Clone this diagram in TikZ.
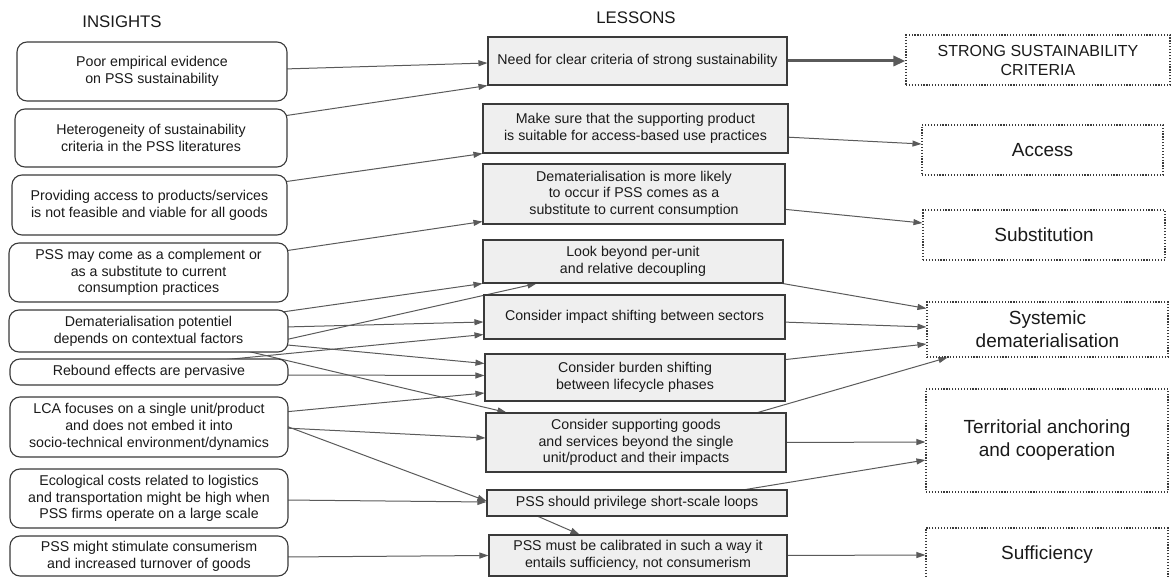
\documentclass[tikz,border=0pt]{standalone}
\usepackage{fontspec}
\setmainfont{Liberation Sans}
\usetikzlibrary{arrows.meta,calc}
\pgfdeclarelayer{bg}
\pgfsetlayers{bg,main}
\definecolor{linec}{HTML}{5A5A5A}
\definecolor{boxc}{HTML}{3A3A3A}
\definecolor{lesfill}{HTML}{EFEFEF}
\definecolor{txt}{HTML}{1A1A1A}
\tikzset{
  ins/.style={draw=boxc, line width=1.1pt, rounded corners=10pt, fill=white, align=center,
    inner sep=0pt, font=\fontsize{14.2}{16.7}\selectfont, text=txt},
  les/.style={draw=boxc, line width=1.1pt, fill=lesfill, align=center,
    inner sep=0pt, font=\fontsize{14.2}{16.5}\selectfont, text=txt},
  res/.style={draw=boxc, line width=1.1pt, dash pattern=on 1.2pt off 1.7pt, fill=white, align=center,
    inner sep=0pt, font=\fontsize{19}{23}\selectfont, text=txt},
  title/.style={font=\fontsize{16.8}{19}\selectfont, text=txt, inner sep=0pt},
  conn/.style={draw=linec, line width=1pt, -{Triangle[length=9pt,width=6pt]}},
  bigconn/.style={draw=linec, line width=3pt, -{Triangle[length=12pt,width=10pt]}}
}
\begin{document}
\begin{tikzpicture}[x=1pt,y=-1pt]
\useasboundingbox (0,0) rectangle (1171,577);

% titles
\node[title] (tI) at (122,22) {INSIGHTS};
\node[title] (tL) at (636,17.5) {LESSONS};

% insights
\node[ins, minimum width=270pt, minimum height=59pt] (L1) at (152,71.5) {Poor empirical evidence\\on PSS sustainability};
\node[ins, minimum width=272pt, minimum height=58pt] (L2) at (151,138) {Heterogeneity of sustainability\\criteria in the PSS literatures};
\node[ins, minimum width=275pt, minimum height=60pt] (L3) at (149.5,205) {Providing access to products/services\\is not feasible and viable for all goods};
\node[ins, minimum width=279pt, minimum height=59pt] (L4) at (148.5,272.5) {PSS may come as a complement or\\as a substitute to current\\consumption practices};
\node[ins, minimum width=279pt, minimum height=42pt] (L5) at (148.5,331) {Dematerialisation potentiel\\depends on contextual factors};
\node[ins, minimum width=278pt, minimum height=26pt] (L6) at (149,372) {Rebound effects are pervasive};
\node[ins, minimum width=278pt, minimum height=60pt] (L7) at (149,427) {LCA focuses on a single unit/product\\and does not embed it into\\socio-technical environment/dynamics};
\node[ins, minimum width=278pt, minimum height=59pt] (L8) at (149,498.5) {Ecological costs related to logistics\\and transportation might be high when\\PSS firms operate on a large scale};
\node[ins, minimum width=278pt, minimum height=40pt] (L9) at (149,556) {PSS might stimulate consumerism\\and increased turnover of goods};

% lessons
\node[les, minimum width=299pt, minimum height=48pt] (M1) at (637.5,61) {Need for clear criteria of strong sustainability};
\node[les, minimum width=305pt, minimum height=49pt] (M2) at (635.5,128.5) {Make sure that the supporting product\\is suitable for access-based use practices};
\node[les, minimum width=302pt, minimum height=60pt] (M3) at (634,194) {Dematerialisation is more likely\\to occur if PSS comes as a\\substitute to current consumption};
\node[les, minimum width=300pt, minimum height=43pt] (M4) at (633,261.5) {Look beyond per-unit\\and relative decoupling};
\node[les, minimum width=301pt, minimum height=44pt] (M5) at (634.5,317) {Consider impact shifting between sectors};
\node[les, minimum width=300pt, minimum height=47pt] (M6) at (635,377.5) {Consider burden shifting\\between lifecycle phases};
\node[les, minimum width=300pt, minimum height=59pt] (M7) at (636,442.5) {Consider supporting goods\\and services beyond the single\\unit/product and their impacts};
\node[les, minimum width=300pt, minimum height=26pt] (M8) at (637,503) {PSS should privilege short-scale loops};
\node[les, minimum width=298pt, minimum height=41pt] (M9) at (638,555.5) {PSS must be calibrated in such a way it\\entails sufficiency, not consumerism};

% results
\node[res, minimum width=264pt, minimum height=50pt, font=\fontsize{16}{19}\selectfont] (R1) at (1038,60) {STRONG SUSTAINABILITY\\CRITERIA};
\node[res, minimum width=241pt, minimum height=50pt] (R2) at (1042.5,150) {Access};
\node[res, minimum width=242pt, minimum height=50pt] (R3) at (1044,235) {Substitution};
\node[res, minimum width=241pt, minimum height=55pt] (R4) at (1047.5,329.5) {Systemic\\dematerialisation};
\node[res, minimum width=242pt, minimum height=103pt] (R5) at (1047,440.5) {Territorial anchoring\\and cooperation};
\node[res, minimum width=242pt, minimum height=54pt] (R6) at (1047,555) {Sufficiency};

\begin{pgfonlayer}{bg}
% insights -> lessons
\draw[conn] ($(L1.east)+(-4,-2.5)$) -- ($(M1.west)+(0,2)$);
\draw[conn] ($(L2.north east)+(-4,7.5)$) -- (M1.south west);
\draw[conn] ($(L3.north east)+(-4,7.5)$) -- (M2.south west);
\draw[conn] ($(L4.north east)+(-4,8.5)$) -- ($(M3.south west)+(0,-3)$);
\draw[conn] ($(L5.north east)+(-6,2.5)$) -- (M4.south west);
\draw[conn] ($(L5.east)+(-4,-4)$) -- ($(M5.west)+(0,5)$);
\draw[conn] ($(L5.east)+(-4,9)$) -- ($(M4.south west)+(54,0)$);
\draw[conn] ($(L5.south east)+(-6,-8)$) -- ($(M6.west)+(0,-14)$);
\draw[conn] ($(L5.south east)+(-48,-3)$) -- ($(M7.north west)+(21,0)$);
\draw[conn] ($(L6.north)+(58,3)$) -- ($(M5.south west)+(0,-5)$);
\draw[conn] ($(L6.east)+(-4,3)$) -- ($(M6.west)+(0,-2)$);
\draw[conn] ($(L7.north east)+(-4,15.5)$) -- ($(M6.west)+(0,15.5)$);
\draw[conn] ($(L7.east)+(-4,1)$) -- ($(M7.west)+(0,-4.5)$);
\draw[conn] ($(L7.east)+(-4,-1.5)$) -- ($(M8.west)+(0,-2)$);
\draw[conn] ($(L8.east)+(-4,1.5)$) -- ($(M8.west)+(0,-1)$);
\draw[conn] ($(L9.east)+(-4,1)$) -- (M9.west);
\draw[conn] ($(M8.south west)+(45,-3)$) -- ($(M9.north west)+(91,0)$);
% lessons -> results
\draw[bigconn] ($(M1.east)+(-4,0)$) -- ($(R1.west)+(0,1)$);
\draw[conn] ($(M2.east)+(-4,8.5)$) -- ($(R2.west)+(0,-6)$);
\draw[conn] ($(M3.east)+(-4,15)$) -- ($(R3.west)+(0,-12)$);
\draw[conn] ($(M4.south east)+(-18,-3)$) -- ($(R4.north west)+(0,7)$);
\draw[conn] ($(M5.east)+(-4,5)$) -- ($(R4.west)+(0,-2.5)$);
\draw[conn] ($(M6.east)+(-4,-17.5)$) -- ($(R4.west)+(0,14.5)$);
\draw[conn] ($(M7.north east)+(-39,3)$) -- ($(R4.south west)+(21,0)$);
\draw[conn] ($(M7.east)+(-4,0)$) -- ($(R5.west)+(0,1.5)$);
\draw[conn] ($(M8.north east)+(-60,3)$) -- ($(R5.west)+(0,19.5)$);
\draw[conn] ($(M9.east)+(-4,0)$) -- (R6.west);
\end{pgfonlayer}
\end{tikzpicture}
\end{document}
